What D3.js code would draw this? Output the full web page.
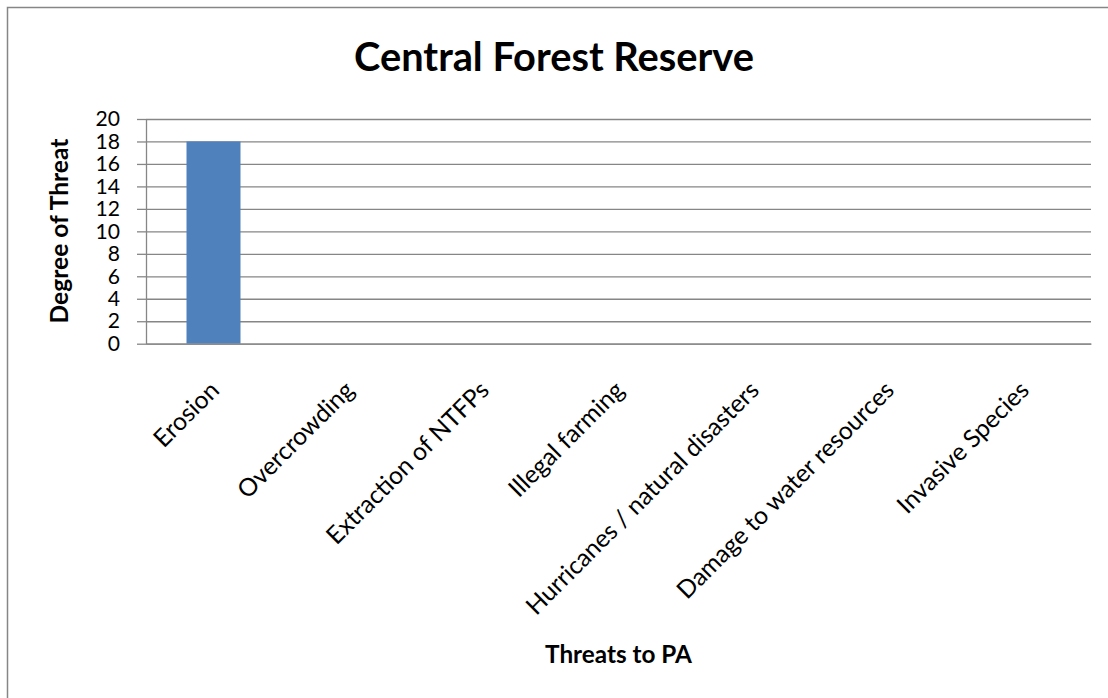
<!DOCTYPE html>
<html>
<head>
<meta charset="utf-8">
<script src="https://cdn.jsdelivr.net/npm/d3@7"></script>
<style>
  html, body { margin: 0; padding: 0; background: #fff; }
  svg { display: block; }
  text { font-family: Lato, "Open Sans", sans-serif; fill: #000; }
</style>
</head>
<body>
<svg id="chart" width="1108" height="698"></svg>
<script>
// ---- data ----
const categories = ["Erosion", "Overcrowding", "Extraction of NTFPs", "Illegal farming",
  "Hurricanes / natural disasters", "Damage to water resources", "Invasive Species"];
const values = [18, 0, 0, 0, 0, 0, 0];
const yTicks = [0, 2, 4, 6, 8, 10, 12, 14, 16, 18, 20];
const chartTitle = "Central Forest Reserve";
const yTitle = "Degree of Threat";
const xTitle = "Threats to PA";

// ---- layout ----
const W = 1108, H = 698;
const plot = { left: 146, right: 1091, top: 119, bottom: 343.7 };
const gridColor = "#868686";
const barColor = "#4F81BD";

const svg = d3.select("#chart");

// fit a font size so that a text's width matches a target width
function fitSize(str, weight, target) {
  const t = svg.append("text").attr("font-size", 100).attr("font-weight", weight).text(str);
  const w = t.node().getComputedTextLength();
  t.remove();
  return 100 * target / w;
}

// chart border
svg.append("rect")
  .attr("x", 7.5).attr("y", 7.5)
  .attr("width", W + 20).attr("height", H + 20)
  .attr("fill", "none").attr("stroke", gridColor).attr("stroke-width", 1.5);

const x = d3.scaleBand().domain(categories)
  .range([plot.left, plot.right]).paddingInner(0.6).paddingOuter(0.3);
const y = d3.scaleLinear().domain([0, 20]).range([plot.bottom, plot.top]);

// gridlines
const grid = svg.append("g").attr("transform", `translate(${plot.left},0)`)
  .call(d3.axisLeft(y).tickValues(yTicks).tickSize(-(plot.right - plot.left)).tickFormat(""));
grid.select(".domain").remove();
grid.selectAll("line").attr("stroke", gridColor).attr("stroke-width", 1.3);

// bars
svg.append("g").selectAll("rect").data(values).join("rect")
  .attr("x", (d, i) => x(categories[i]))
  .attr("width", x.bandwidth())
  .attr("y", d => y(d))
  .attr("height", d => y(0) - y(d))
  .attr("fill", barColor);

// y axis
const tickFs = fitSize("18", "normal", 24.5);
const yAxis = svg.append("g").attr("transform", `translate(${plot.left},0)`)
  .call(d3.axisLeft(y).tickValues(yTicks).tickSize(9).tickSizeOuter(0).tickPadding(17));
yAxis.select(".domain").attr("stroke", gridColor).attr("stroke-width", 1.3);
yAxis.selectAll("line").attr("stroke", gridColor).attr("stroke-width", 1.3);
yAxis.selectAll("text").attr("font-size", tickFs).attr("font-family", "Lato").attr("fill", "#000");

// x axis
const catFs = fitSize("Extraction of NTFPs", "normal", 218);
const xAxis = svg.append("g").attr("transform", `translate(0,${plot.bottom})`)
  .call(d3.axisBottom(x).tickSize(0).tickSizeOuter(0));
xAxis.select(".domain").attr("stroke", gridColor).attr("stroke-width", 1.3);
xAxis.selectAll("text")
  .attr("font-size", catFs).attr("font-family", "Lato").attr("fill", "#000")
  .attr("text-anchor", "end")
  .attr("x", 0).attr("y", 0).attr("dy", "0.35em")
  .attr("transform", "translate(1,42) rotate(-45)");

// titles
svg.append("text")
  .attr("x", 554).attr("y", 71)
  .attr("text-anchor", "middle").attr("font-weight", "bold")
  .attr("font-size", fitSize(chartTitle, "bold", 400))
  .text(chartTitle);

svg.append("text")
  .attr("transform", "translate(68,231) rotate(-90)")
  .attr("text-anchor", "middle").attr("font-weight", "bold")
  .attr("font-size", fitSize(yTitle, "bold", 185))
  .text(yTitle);

svg.append("text")
  .attr("x", (plot.left + plot.right) / 2).attr("y", 663)
  .attr("text-anchor", "middle").attr("font-weight", "bold")
  .attr("font-size", fitSize(xTitle, "bold", 147))
  .text(xTitle);
</script>
</body>
</html>
